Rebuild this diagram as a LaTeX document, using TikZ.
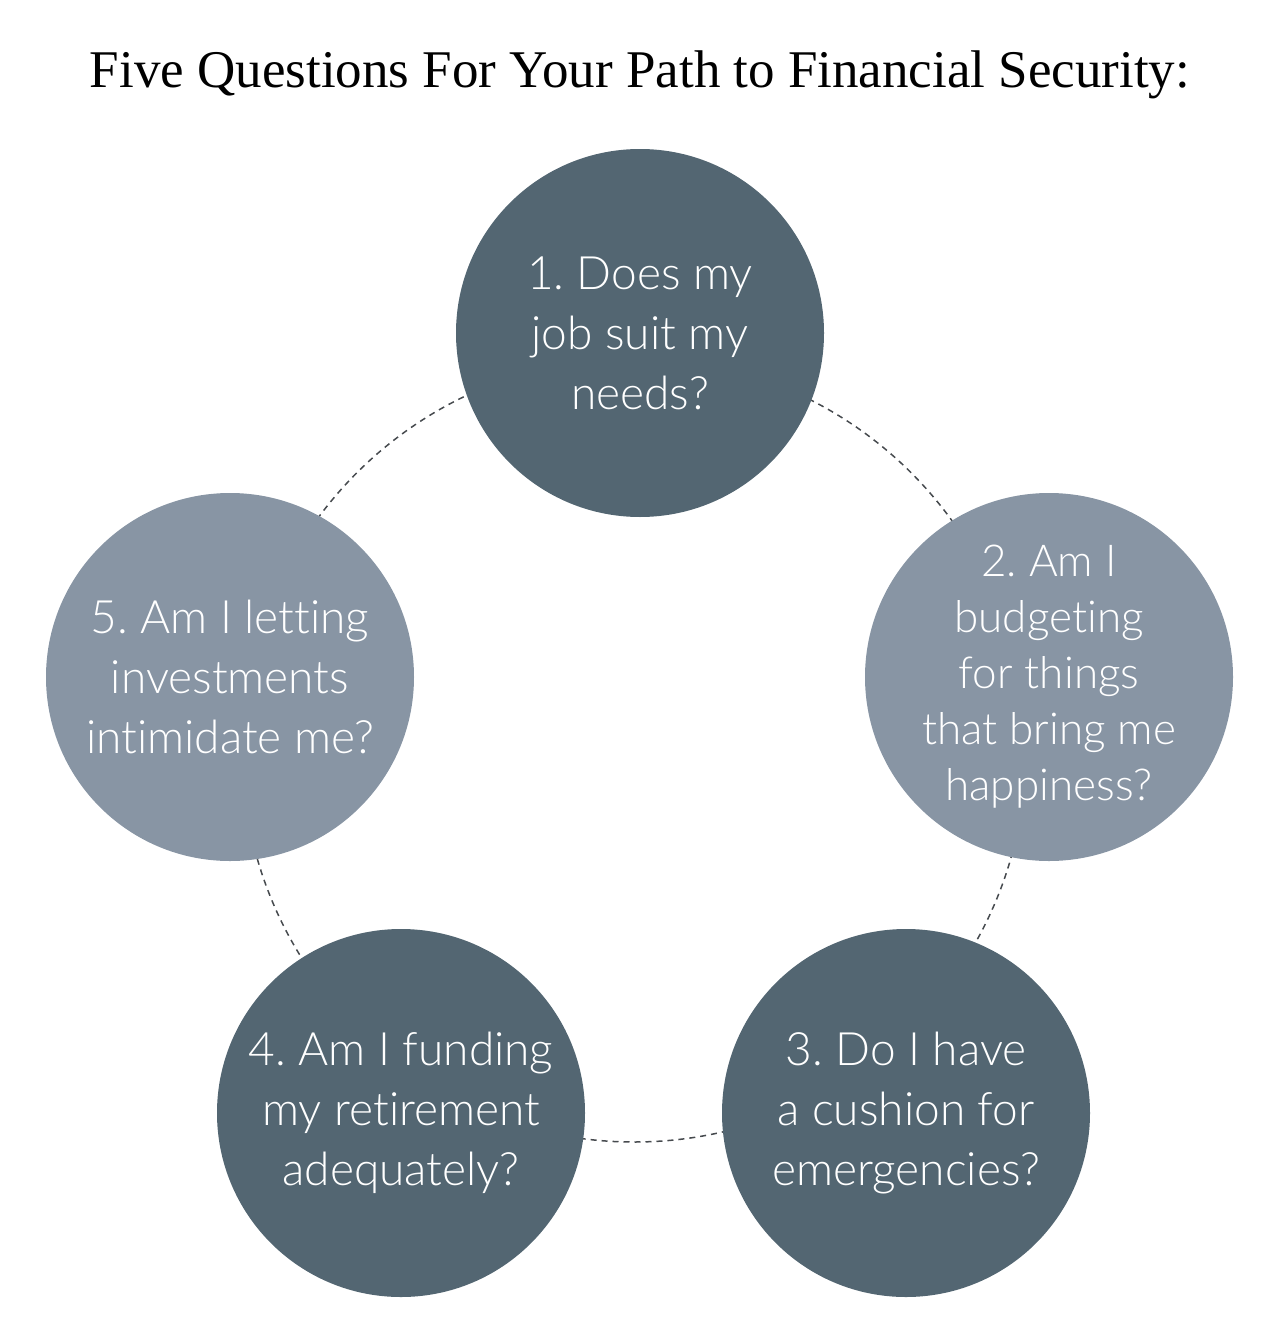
\documentclass[tikz,border=0pt]{standalone}
\usepackage{fontspec}
\usetikzlibrary{positioning}
\newfontfamily\titlefont{Liberation Serif}
\newfontfamily\qfont[Ligatures=NoCommon]{Lato Light}
\definecolor{SlateDark}{RGB}{83,102,114}
\definecolor{SlateLight}{RGB}{136,149,164}
\definecolor{RingGray}{RGB}{70,74,78}
\frenchspacing

\begin{document}
\begin{tikzpicture}[x=1pt,y=-1pt,q/.style={circle,minimum size=368pt,inner sep=0pt,align=center,text=white,font=\qfont\fontsize{46}{60}\selectfont},ring/.style={RingGray,line width=1.5pt,dash pattern=on 6pt off 5pt}]
\useasboundingbox (0,0) rectangle (1280,1319);
\node[anchor=base,font=\titlefont\fontsize{53}{60}\selectfont] (title) at (640,88) {Five Questions For Your Path to Financial Security:};
\coordinate (hub) at (634,750);
\draw[ring] (hub) circle[radius=392pt];
\node[q,fill=SlateDark] (q1) at (640,333) {1. Does my\\job suit my\\needs?};
\node[q,fill=SlateLight,font=\qfont\fontsize{44}{56}\selectfont] (q2) at (1049,677) {2. Am I\\budgeting\\for things\\that bring me\\happiness?};
\node[q,fill=SlateDark] (q3) at (906,1113) {3. Do I have\\a cushion for\\emergencies?};
\node[q,fill=SlateDark] (q4) at (401,1113) {4. Am I funding\\my retirement\\adequately?};
\node[q,fill=SlateLight] (q5) at (230,677) {5. Am I letting\\investments\\intimidate me?};
\end{tikzpicture}
\end{document}
